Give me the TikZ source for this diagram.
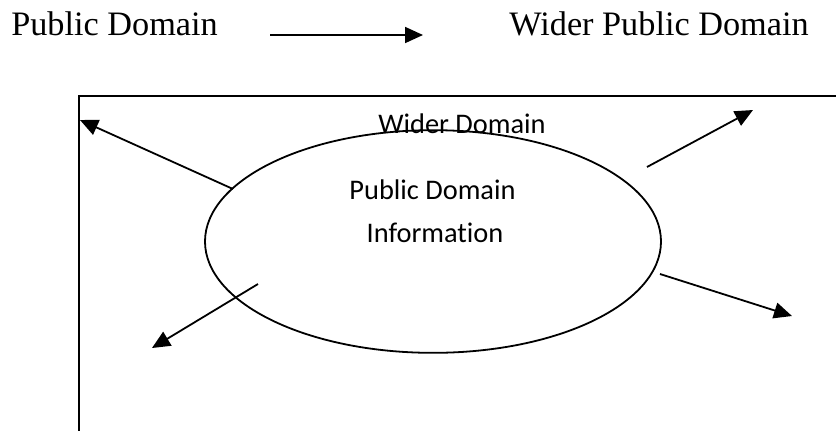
\documentclass[tikz,border=0pt]{standalone}
\usepackage{fontspec}
\setmainfont{Liberation Serif}
\newfontfamily\calibrifont[Ligatures=NoCommon]{Carlito}
\usetikzlibrary{arrows.meta,shapes.geometric}
\begin{document}
\begin{tikzpicture}[x=0.75pt,y=-0.75pt,
  serif/.style={font=\fontsize{25.7}{30}\selectfont, inner sep=0pt},
  sanslabel/.style={font=\calibrifont\fontsize{21.3}{26}\selectfont, inner sep=0pt},
  conn/.style={line width=1.35pt, -{Triangle[length=13.5pt,width=12pt]}},
  boxline/.style={line width=1.7pt},
  oval/.style={ellipse, draw, line width=1.35pt, inner sep=0pt, minimum width=342pt, minimum height=167pt}]
\useasboundingbox (0,0) rectangle (836,430);
\clip (0,0) rectangle (836,430);
% top row
\node[serif, anchor=base west] (pd) at (11,35) {Public Domain};
\node[serif, anchor=base east] (wpd) at (809,35) {Wider Public Domain};
\coordinate (ta) at (270,35);
\coordinate (tb) at (423,35);
\draw[conn] (ta) -- (tb);
% wider domain box (right and bottom edges lie outside the picture)
\coordinate (boxTR) at (850,96);
\coordinate (boxTL) at (79,96);
\coordinate (boxBL) at (79,445);
\draw[boxline] (boxTR) -- (boxTL) -- (boxBL);
\node[sanslabel, anchor=base] (wd) at (462,133) {Wider Domain};
% ellipse
\node[oval] (el) at (433,241.5) {};
\node[sanslabel, anchor=base] (info1) at (432.5,199) {Public Domain};
\node[sanslabel, anchor=base] (info2) at (435,242) {Information};
% outgoing arrows
\coordinate (s1) at (233,189); \coordinate (e1) at (80,120);
\coordinate (s2) at (647,167); \coordinate (e2) at (753,110);
\coordinate (s3) at (660,274); \coordinate (e3) at (792,316);
\coordinate (s4) at (258,284); \coordinate (e4) at (152,348);
\draw[conn] (s1) -- (e1);
\draw[conn] (s2) -- (e2);
\draw[conn] (s3) -- (e3);
\draw[conn] (s4) -- (e4);
\end{tikzpicture}
\end{document}
